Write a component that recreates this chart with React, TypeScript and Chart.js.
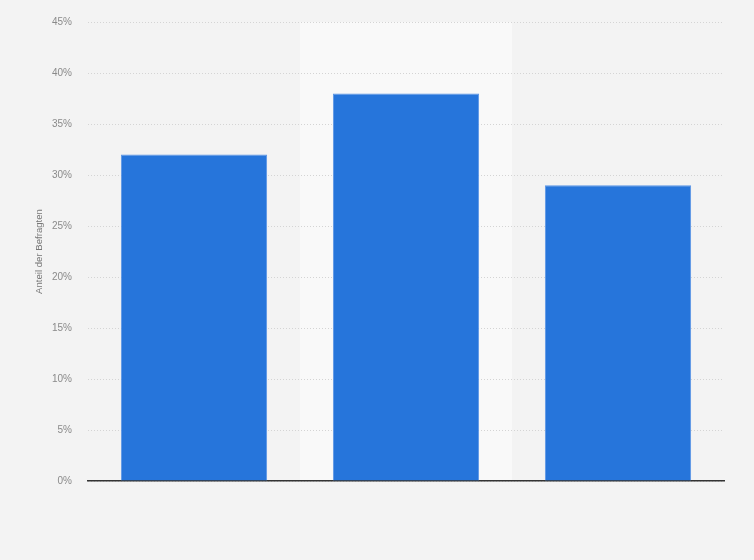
import { useEffect, useRef } from "react";
import { Chart, registerables, Plugin } from "chart.js";

Chart.register(...registerables);

const categories = ["A", "B", "C"];
const shares = [32, 38, 29];
const yTicks = [0, 5, 10, 15, 20, 25, 30, 35, 40, 45];

const bandPlugin: Plugin<"bar"> = {
  id: "band",
  beforeDraw(chart) {
    const { ctx, chartArea, scales } = chart;
    const x = scales.x;
    ctx.save();
    ctx.fillStyle = "#f3f3f3";
    ctx.fillRect(0, 0, chart.width, chart.height);
    const step = (x.right - x.left) / categories.length;
    const mid = x.getPixelForValue(1);
    ctx.fillStyle = "#f9f9f9";
    ctx.fillRect(mid - step / 2, chartArea.top, step, chartArea.bottom - chartArea.top);
    ctx.restore();
  },
};

function App() {
  const chartRef = useRef<HTMLCanvasElement | null>(null);
  const chartInstance = useRef<Chart | null>(null);

  useEffect(() => {
    if (!chartRef.current) return;
    const ctx = chartRef.current.getContext("2d");
    if (!ctx) return;
    if (chartInstance.current) chartInstance.current.destroy();

    chartInstance.current = new Chart(ctx, {
      type: "bar",
      data: {
        labels: categories,
        datasets: [
          {
            data: shares,
            backgroundColor: "#2675db",
            borderColor: "#5a95e6",
            borderWidth: 1,
            barPercentage: 0.69,
            categoryPercentage: 1,
          },
        ],
      },
      plugins: [bandPlugin],
      options: {
        animation: false,
        responsive: false,
        maintainAspectRatio: false,
        layout: { padding: { top: 19, right: 30, left: 0, bottom: 0 } },
        plugins: {
          legend: { display: false },
          tooltip: { enabled: false },
        },
        scales: {
          x: {
            ticks: { display: false },
            grid: { display: false },
            border: { display: true, color: "#333", width: 1.5 },
            afterFit: (scale) => {
              scale.height = 79;
            },
          },
          y: {
            min: 0,
            max: 45,
            afterBuildTicks: (scale) => {
              scale.ticks = yTicks.map((v) => ({ value: v }));
            },
            ticks: {
              padding: 16,
              color: "#8a8a8a",
              font: { family: "Liberation Sans", size: 10 },
              callback: (v) => v + "%",
            },
            grid: {
              drawTicks: false,
              color: "#d4d4d4",
            },
            border: { display: false, dash: [1, 2] },
            title: {
              display: true,
              text: "Anteil der Befragten",
              color: "#777",
              font: { family: "Liberation Sans", size: 9.6 },
              padding: { top: 34, bottom: 0 },
            },
            afterFit: (scale) => {
              scale.width = 88;
            },
          },
        },
      },
    });

    return () => {
      if (chartInstance.current) {
        chartInstance.current.destroy();
        chartInstance.current = null;
      }
    };
  }, []);

  return (
    <div style={{ position: "fixed", left: 0, top: 0, width: 754, height: 560 }}>
      <canvas ref={chartRef} width={754} height={560} style={{ width: 754, height: 560 }} />
    </div>
  );
}

export default App;
